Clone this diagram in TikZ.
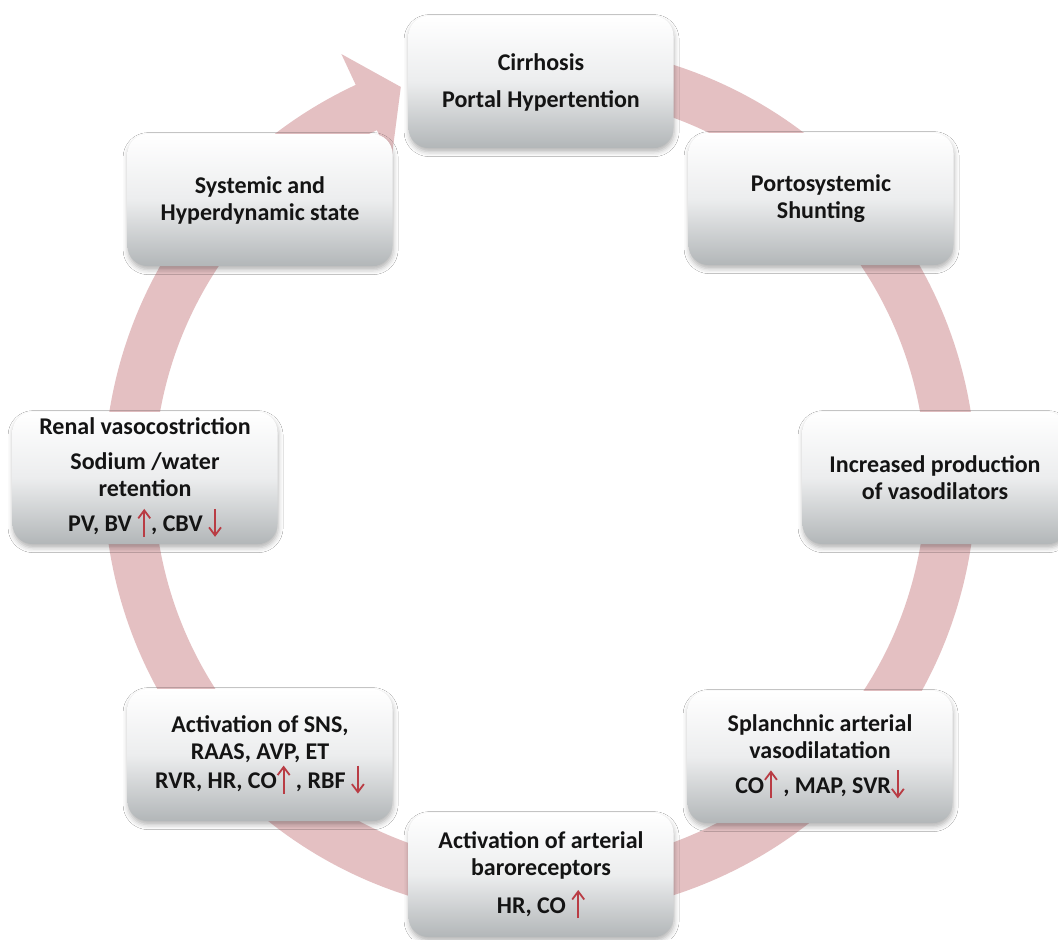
\documentclass[tikz,border=0pt]{standalone}
\usepackage{fontspec}
\setmainfont{Carlito}
\usetikzlibrary{arrows.meta,shadows.blur,calc}
\definecolor{ringpink}{RGB}{228,192,194}
\definecolor{arrred}{RGB}{185,60,68}
\definecolor{boxbot}{RGB}{178,182,184}
\definecolor{boxmid}{RGB}{236,237,238}
\definecolor{txt}{RGB}{20,20,20}
\newcommand\uarr{\tikz[baseline=0pt]\draw[draw=arrred,line width=0.9pt,-{Straight Barb[length=4pt,width=6pt]}] (0,-2.5pt)--(0,11.5pt);}
\newcommand\darr{\tikz[baseline=0pt]\draw[draw=arrred,line width=0.9pt,-{Straight Barb[length=4pt,width=6pt]}] (0,11.5pt)--(0,-2.5pt);}
\begin{document}
\begin{tikzpicture}[x=0.5pt,y=-0.5pt,
  box/.style={rounded corners=10pt, minimum width=132.5pt, minimum height=66pt,
    align=center, font=\bfseries\fontsize{12}{13.5}\selectfont, text=txt,
    top color=white, bottom color=boxbot, middle color=boxmid,
    blur shadow={shadow xshift=0.3pt, shadow yshift=-1.8pt, shadow blur radius=2.5pt, shadow opacity=30},
    inner sep=1pt}]
\fill[white] (0,0) rectangle (1058,939);
\useasboundingbox (0,0) rectangle (1058,939);
% ring
\coordinate (c) at (540,480);
\draw[ringpink, line width=25pt] ($(c)+(80:205.5pt)$) arc[start angle=80, end angle=-245.5, radius=205.5pt];
\fill[ringpink] ($(c)+(115:235pt)$) -- ($(c)+(109.5:208.5pt)$) -- ($(c)+(115:176pt)$) -- cycle;
% boxes
\node[box] (b1) at (541,82) {Cirrhosis\\[5pt] Portal Hypertention};
\node[box] (b2) at (821,199) {Portosystemic\\Shunting};
\node[box] (b3) at (935,478) {Increased production\\of vasodilators};
\node[box] (b4) at (820,757) {Splanchnic arterial\\vasodilatation\\[4pt] CO\uarr\ , MAP, SVR\darr};
\node[box, minimum height=62pt] (b5) at (541,875) {Activation of arterial\\baroreceptors\\[4pt] HR, CO \uarr};
\node[box] (b6) at (260,755) {Activation of SNS,\\RAAS, AVP, ET\\ RVR, HR, CO\uarr\ , RBF \darr};
\node[box] (b7) at (145,478) {Renal vasocostriction\\[4pt] Sodium /water\\retention\\[4pt] PV, BV \uarr, CBV \darr};
\node[box] (b8) at (260,200) {Systemic and\\Hyperdynamic state};
\end{tikzpicture}
\end{document}
